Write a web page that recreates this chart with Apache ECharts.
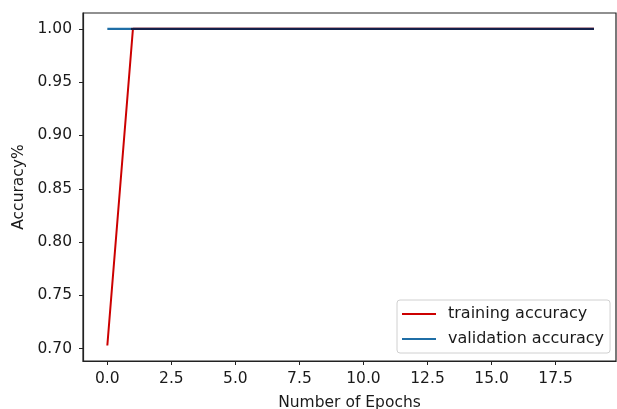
<!DOCTYPE html>
<html>
<head>
<meta charset="utf-8">
<script src="https://cdn.jsdelivr.net/npm/echarts@6/dist/echarts.min.js"></script>
<style>html,body{margin:0;padding:0;background:#fff}#c{width:617px;height:409px}</style>
</head>
<body>
<div id="c"></div>
<script>
const epochs = [0,1,2,3,4,5,6,7,8,9,10,11,12,13,14,15,16,17,18,19];
const trainingAccuracy = [0.703,1,1,1,1,1,1,1,1,1,1,1,1,1,1,1,1,1,1,1];
const validationAccuracy = [1,1,1,1,1,1,1,1,1,1,1,1,1,1,1,1,1,1,1,1];
const xTicks = [0,2.5,5,7.5,10,12.5,15,17.5];
const yTicks = [0.70,0.75,0.80,0.85,0.90,0.95,1.00];

const chart = echarts.init(document.getElementById('c'), null, {renderer:'canvas'});
const font = 'DejaVu Sans';
const txt = '#1a1a1a';
const red = '#cc0000', blue = '#1f6ea6', navy = '#14204a';
chart.setOption({
  animation:false,
  backgroundColor:'#fff',
  grid:{left:83,top:13,right:1,bottom:48,outerBoundsMode:'none',containLabel:false,show:true,borderColor:'#222',borderWidth:1.2,backgroundColor:'transparent'},
  xAxis:{
    type:'value', min:-0.95, max:19.86,
    name:'Number of Epochs', nameLocation:'middle', nameGap:34,
    nameTextStyle:{fontFamily:font,fontSize:15.5,color:txt},
    axisLine:{show:true,onZero:false,lineStyle:{color:'#222',width:1.2}},
    axisTick:{show:true,length:4,customValues:xTicks,lineStyle:{color:'#222'}},
    axisLabel:{customValues:xTicks,margin:10,fontFamily:font,fontSize:15.5,color:txt,formatter:v=>v.toFixed(1)},
    splitLine:{show:false}
  },
  yAxis:{
    type:'value', min:0.6885, max:1.0148,
    name:'Accuracy%', nameLocation:'middle', nameGap:53, nameRotate:90,
    nameTextStyle:{fontFamily:font,fontSize:15.5,color:txt},
    axisLine:{show:true,onZero:false,lineStyle:{color:'#222',width:1.2}},
    axisTick:{show:true,length:4,customValues:yTicks,lineStyle:{color:'#222'}},
    axisLabel:{customValues:yTicks,margin:11,fontFamily:font,fontSize:15.5,color:txt,formatter:v=>v.toFixed(2)},
    splitLine:{show:false}
  },
  legend:{
    orient:'vertical', left:397, top:300,
    backgroundColor:'#fff', borderColor:'#d0d0d0', borderWidth:1, borderRadius:3,
    padding:[6,6,6,4], itemWidth:34, itemHeight:16, itemGap:9,
    itemStyle:{opacity:0},
    textStyle:{fontFamily:font,fontSize:16,color:txt,padding:[0,0,0,7]},
    data:[
      {name:'training accuracy', lineStyle:{color:red,width:2}},
      {name:'validation accuracy', lineStyle:{color:blue,width:2}}
    ]
  },
  series:[
    {name:'training accuracy', type:'line', data:epochs.map((e,i)=>[e,trainingAccuracy[i]]),
     showSymbol:false, symbol:'none', color:red, lineStyle:{color:red,width:2}, z:2},
    {name:'validation accuracy', type:'line', data:epochs.map((e,i)=>[e,validationAccuracy[i]]),
     showSymbol:false, symbol:'none', color:blue, lineStyle:{color:blue,width:2.2}, z:3}
  ]
});
// colour the validation line navy where it overlaps the training line (from epoch index 1 on)
const p0 = chart.convertToPixel({gridIndex:0},[epochs[0],1])[0];
const p1 = chart.convertToPixel({gridIndex:0},[epochs[1],1])[0];
const pN = chart.convertToPixel({gridIndex:0},[epochs[epochs.length-1],1])[0];
const f = (p1-p0)/(pN-p0);
chart.setOption({series:[{},{lineStyle:{color:{type:'linear',x:0,y:0,x2:1,y2:0,colorStops:[
  {offset:0,color:blue},{offset:f,color:blue},{offset:Math.min(1,f+0.001),color:navy},{offset:1,color:navy}]}}}]});
</script>
</body>
</html>
